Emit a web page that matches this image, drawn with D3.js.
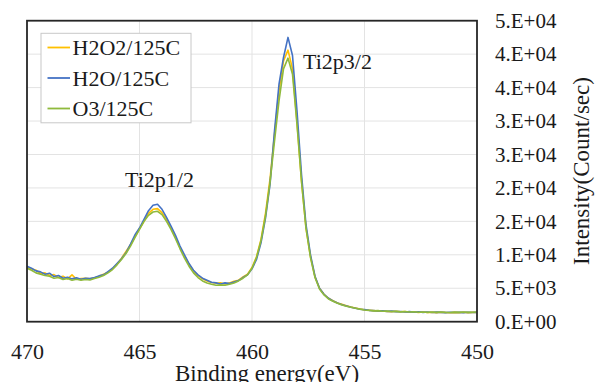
<!DOCTYPE html>
<meta charset="utf-8">
<html>
<head>
    <style>
        body { margin: 0; background: white; }
        svg text { font-family: "Liberation Serif", "Times New Roman", serif !important; }
        .grid line { stroke: #e3e3e3; stroke-width: 1; }
        .series { fill: none; stroke-width: 1.6; stroke-linejoin: round; }
    </style>
    <script src="https://d3js.org/d3.v7.min.js"></script>
</head>
<body>
  <svg width="595" height="382"></svg>
  <script>

      // binding energy (eV), 0.2 eV steps
      var energy = [
          470,469.8,469.6,469.4,469.2,469,468.8,468.6,468.4,468.2,
          468,467.8,467.6,467.4,467.2,467,466.8,466.6,466.4,466.2,
          466,465.8,465.6,465.4,465.2,465,464.8,464.6,464.4,464.2,
          464,463.8,463.6,463.4,463.2,463,462.8,462.6,462.4,462.2,
          462,461.8,461.6,461.4,461.2,461,460.8,460.6,460.4,460.2,
          460,459.8,459.6,459.4,459.2,459,458.8,458.6,458.4,458.2,
          458,457.8,457.6,457.4,457.2,457,456.8,456.6,456.4,456.2,
          456,455.8,455.6,455.4,455.2,455,454.8,454.6,454.4,454.2,
          454,453.8,453.6,453.4,453.2,453,452.8,452.6,452.4,452.2,
          452,451.8,451.6,451.4,451.2,451,450.8,450.6,450.4,450.2,
          450];

      var h2o2 = [
          8100,7900,7700,7200,7300,6900,7050,6600,6800,6400,
          7000,6350,6450,6500,6400,6550,6800,7100,7400,7900,
          8600,9500,10500,11500,12700,13900,15000,16200,16800,16900,
          16300,15300,14000,12600,11100,9800,8600,7600,6900,6400,
          6100,5850,5750,5800,5650,5800,6050,6200,6700,7100,
          8100,9700,12300,16200,21300,28000,34500,39000,40600,37800,
          29800,21000,14000,9700,6700,5000,4100,3500,3150,2800,
          2600,2400,2200,2050,1900,1780,1720,1650,1580,1600,
          1540,1500,1560,1480,1500,1420,1470,1400,1450,1380,
          1420,1360,1420,1380,1340,1400,1360,1420,1350,1400,
          1380];

      var h2o = [
          8300,8000,7600,7450,7100,7250,6750,6900,6500,6650,
          6400,6550,6350,6500,6450,6600,6850,7000,7500,8000,
          8700,9400,10300,11600,13000,14000,15300,16600,17400,17550,
          16800,15600,14300,12900,11300,10000,8700,7700,7000,6500,
          6200,5900,5800,5650,5800,5700,5950,6150,6600,7000,
          7900,9300,11800,15500,20500,28500,35500,39500,42500,39800,
          31500,22000,14500,10000,6800,5000,4100,3500,3100,2800,
          2550,2350,2150,2000,1850,1800,1700,1650,1600,1620,
          1550,1580,1500,1530,1450,1500,1420,1480,1400,1450,
          1380,1430,1400,1350,1420,1380,1400,1350,1420,1380,
          1400];

      var o3 = [
          8000,7700,7300,7100,6900,6800,6500,6600,6300,6450,
          6200,6350,6200,6300,6250,6450,6650,6900,7300,7800,
          8500,9300,10200,11300,12600,13800,15000,15900,16400,16500,
          16000,15000,13800,12400,10900,9500,8300,7300,6600,6100,
          5800,5600,5450,5500,5450,5600,5800,6100,6500,7000,
          8000,9600,12100,15800,20800,27000,33000,37800,39400,37000,
          29500,21000,14000,9600,6600,4900,4000,3400,3050,2750,
          2500,2300,2150,2000,1880,1760,1700,1620,1650,1560,
          1600,1520,1540,1470,1520,1450,1480,1420,1460,1400,
          1450,1390,1440,1400,1380,1430,1390,1440,1400,1420,
          1460];

      var seriesNames = ["H2O2/125C", "H2O/125C", "O3/125C"];
      var seriesColors = ["#ffc000", "#4472c4", "#8fba3c"];
      var seriesValues = [h2o2, h2o, o3];

      var xTicks = [470, 465, 460, 455, 450];
      var yTicks = [0, 5000, 10000, 15000, 20000, 25000, 30000, 35000, 40000, 45000];
      var yTickLabels = ["0.E+00","5.E+03","1.E+04","2.E+04","2.E+04","3.E+04","3.E+04","4.E+04","4.E+04","5.E+04"];

      var svg = d3.select("svg"),
          plotLeft = 27, plotRight = 477, plotTop = 20.7, plotBottom = 321.7;

      var x = d3.scaleLinear().domain([470, 450]).range([plotLeft, plotRight]),
          y = d3.scaleLinear().domain([0, 45000]).range([plotBottom, plotTop]);

      // gridlines
      var grid = svg.append("g").attr("class", "grid");
      grid.selectAll(".h").data(yTicks.slice(1))
          .enter().append("line")
          .attr("x1", plotLeft).attr("x2", plotRight)
          .attr("y1", function(d) { return y(d); })
          .attr("y2", function(d) { return y(d); });
      grid.selectAll(".v").data(xTicks.slice(1, -1))
          .enter().append("line")
          .attr("y1", plotTop).attr("y2", plotBottom)
          .attr("x1", function(d) { return x(d); })
          .attr("x2", function(d) { return x(d); });

      // spectra
      var line = d3.line()
          .x(function(d, i) { return x(energy[i]); })
          .y(function(d) { return y(d); });

      svg.selectAll(".series")
         .data(seriesValues)
         .enter().append("path")
         .attr("class", "series")
         .attr("stroke", function(d, i) { return seriesColors[i]; })
         .attr("d", line);

      // frame
      svg.append("rect")
         .attr("x", plotLeft).attr("y", plotTop)
         .attr("width", plotRight - plotLeft).attr("height", plotBottom - plotTop)
         .attr("fill", "none")
         .attr("stroke", "#262626")
         .attr("stroke-width", 1.8);

      // axes
      var xAxis = svg.append("g")
         .attr("transform", "translate(0," + plotBottom + ")")
         .call(d3.axisBottom(x).tickValues(xTicks).tickSize(0).tickPadding(21.5));
      xAxis.select(".domain").remove();
      xAxis.attr("font-family", null);
      xAxis.selectAll("text").attr("font-size", 22);

      var yAxis = svg.append("g")
         .attr("transform", "translate(" + plotRight + ",0)")
         .call(d3.axisRight(y).tickValues(yTicks).tickSize(0).tickPadding(18)
               .tickFormat(function(d, i) { return yTickLabels[i]; }));
      yAxis.select(".domain").remove();
      yAxis.attr("font-family", null);
      yAxis.selectAll("text").attr("font-size", 21);

      svg.append("text")
         .attr("x", 267)
         .attr("y", 381)
         .attr("text-anchor", "middle")
         .attr("font-size", 23)
         .text("Binding energy(eV)");

      svg.append("text")
         .attr("transform", "translate(589,171) rotate(-90)")
         .attr("text-anchor", "middle")
         .attr("font-size", 23)
         .text("Intensity(Count/sec)");

      // peak labels
      svg.append("text")
         .attr("x", 303).attr("y", 69)
         .attr("font-size", 22)
         .text("Ti2p3/2");
      svg.append("text")
         .attr("x", 125).attr("y", 187)
         .attr("font-size", 22)
         .text("Ti2p1/2");

      // legend
      var legend = svg.append("g");
      legend.append("rect")
         .attr("x", 41).attr("y", 33.3)
         .attr("width", 150).attr("height", 89.5)
         .attr("fill", "white")
         .attr("stroke", "#c8c8c8");

      var item = legend.selectAll(".item")
         .data(seriesNames)
         .enter().append("g")
         .attr("transform", function(d, i) { return "translate(0," + (55 + i * 30.5) + ")"; });
      item.append("line")
         .attr("x1", 47.5).attr("x2", 70)
         .attr("y1", -7.5).attr("y2", -7.5)
         .attr("stroke", function(d, i) { return seriesColors[i]; })
         .attr("stroke-width", 1.8);
      item.append("text")
         .attr("x", 72.5)
         .attr("font-size", 22)
         .text(function(d) { return d; });

      // every text gets the serif face directly
      svg.selectAll("text").each(function() {
          this.setAttribute("font-family", "Liberation Serif");
          this.style.setProperty("font-family", "'Liberation Serif', serif", "important");
      });
      svg.selectAll("text").attr("fill", "#1a1a1a");

  </script>
</body>
</html>
